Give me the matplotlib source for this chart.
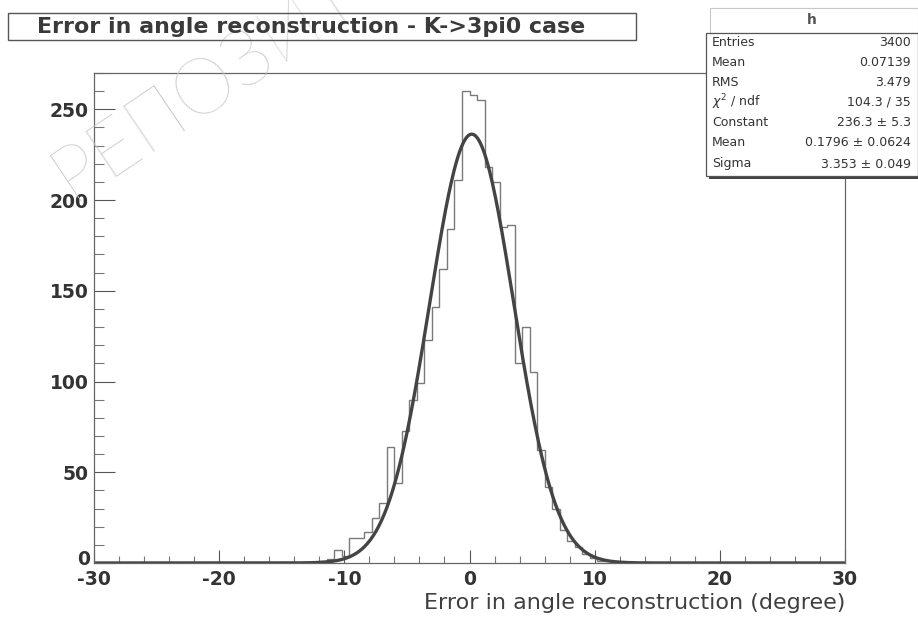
import numpy as np
import matplotlib
matplotlib.use("Agg")
import matplotlib.pyplot as plt
from matplotlib.ticker import MultipleLocator, FuncFormatter
from matplotlib.patches import Rectangle

# histogram: 100 bins from -30 to 30
x_min, x_max, n_bins = -30.0, 30.0, 100
# counts of the non-empty bins, starting at bin 30 ([-12.0, -11.4])
first_bin = 30
counts_nonzero = [1, 2, 7, 4, 14, 14, 17, 25, 33, 64,
                  44, 73, 90, 99, 123, 141, 162, 184, 211, 260,
                  258, 255, 218, 210, 185, 186, 110, 130, 105, 62,
                  42, 30, 18, 12, 9, 5, 3, 1, 1]

# gaussian fit result
fit_const = 236.3
fit_mean = 0.1796
fit_sigma = 3.353

stat_names = ["Entries", "Mean", "RMS", r"$\chi^2$ / ndf", "Constant", "Mean", "Sigma"]
stat_values = ["3400", "0.07139", "3.479", "104.3 / 35", "236.3 ± 5.3",
               "0.1796 ± 0.0624", "3.353 ± 0.049"]

title = "Error in angle reconstruction - K->3pi0 case"
xlabel = "Error in angle reconstruction (degree)"

plt.rcParams['font.family'] = ['DejaVu Sans']
plt.rcParams['axes.unicode_minus'] = False

fig = plt.figure(figsize=(9.18, 6.17), dpi=100)
fig.patch.set_facecolor('white')

# watermark
fig.text(80 / 918, 1 - 212 / 617, "РЕПОЗИТОРИЙ", fontsize=56, color='#c8c8c8',
         rotation=34, rotation_mode='anchor', family=['Lato', 'DejaVu Sans'],
         fontweight='light', ha='left', va='bottom', zorder=0)

ax = fig.add_axes([94 / 918, 1 - 563 / 617, (845 - 94) / 918, (563 - 73) / 617])
ax.patch.set_alpha(0)

counts = np.zeros(n_bins)
counts[first_bin:first_bin + len(counts_nonzero)] = counts_nonzero
edges = np.linspace(x_min, x_max, n_bins + 1)
ax.stairs(counts, edges, color='#7a7a7a', lw=1.0, baseline=None)

xf = np.linspace(x_min, x_max, 800)
yf = fit_const * np.exp(-0.5 * ((xf - fit_mean) / fit_sigma) ** 2)
ax.plot(xf, yf, color='#444444', lw=2.4, solid_capstyle='butt')

ax.set_xlim(x_min, x_max)
ax.set_ylim(0, 270)

ax.xaxis.set_major_locator(MultipleLocator(10))
ax.xaxis.set_minor_locator(MultipleLocator(2))
ax.yaxis.set_major_locator(MultipleLocator(50))
ax.yaxis.set_minor_locator(MultipleLocator(10))
# the "0" of the y axis is drawn separately, slightly raised
ax.yaxis.set_major_formatter(FuncFormatter(lambda v, pos: '' if v == 0 else f'{v:.0f}'))
ax.tick_params(axis='x', which='major', direction='in', length=9.5, width=0.8,
               color='#555555', labelsize=13.5, labelcolor='#333333', pad=5)
ax.tick_params(axis='x', which='minor', direction='in', length=5, width=0.8, color='#777777')
ax.tick_params(axis='y', which='major', direction='in', length=15, width=0.8,
               color='#555555', labelsize=13.5, labelcolor='#333333', pad=4)
ax.tick_params(axis='y', which='minor', direction='in', length=7.5, width=0.8, color='#777777')
for lab in ax.get_xticklabels() + ax.get_yticklabels():
    lab.set_fontweight('bold')
for lab in ax.get_yticklabels():
    lab.set_verticalalignment('center_baseline')
ax.annotate('0', xy=(0, 0), xycoords=('axes fraction', 'data'), xytext=(-3, 4),
            textcoords='offset points', ha='right', va='center_baseline',
            fontsize=13.5, fontweight='bold', color='#333333')
for sp in ax.spines.values():
    sp.set_color('#666666')
    sp.set_linewidth(0.9)

ax.set_xlabel(xlabel, fontsize=16, color='#404040', loc='right', labelpad=3)

# title box
fig.patches.append(Rectangle((8 / 918, 1 - 40 / 617), (636 - 8) / 918, 27 / 617,
                             transform=fig.transFigure, fill=False,
                             edgecolor='#555555', lw=1.0))
fig.text(311 / 918, 1 - 27 / 617, title, fontsize=15.9, fontweight='bold',
         color='#3a3a3a', ha='center', va='center')

# stats box
bx0, bx1 = 706 / 918, 1.0
by_top, by_bot = 1 - 33 / 617, 1 - 176 / 617
fig.patches.append(Rectangle((710 / 918, by_top), (918 - 710) / 918, 25 / 617,
                             transform=fig.transFigure, facecolor='white',
                             edgecolor='#c8c8c8', lw=0.8))
fig.text(812 / 918, 1 - 20 / 617, "h", fontsize=10, fontweight='bold',
         color='#555555', ha='center', va='center')
fig.patches.append(Rectangle((bx0 + 3 / 918, by_bot - 3 / 617), bx1 - bx0, by_top - by_bot,
                             transform=fig.transFigure, facecolor='#444444',
                             edgecolor='none'))
fig.patches.append(Rectangle((bx0, by_bot), bx1 - bx0, by_top - by_bot,
                             transform=fig.transFigure, facecolor='white',
                             edgecolor='#555555', lw=0.9))
row_y = [43, 62, 82, 102, 123, 143, 164]
for name, val, yy in zip(stat_names, stat_values, row_y):
    fig.text(712 / 918, 1 - yy / 617, name, fontsize=9, color='#333333',
             ha='left', va='center')
    fig.text(911 / 918, 1 - yy / 617, val, fontsize=9, color='#333333',
             ha='right', va='center')

fig.savefig("out.png", dpi=100)
